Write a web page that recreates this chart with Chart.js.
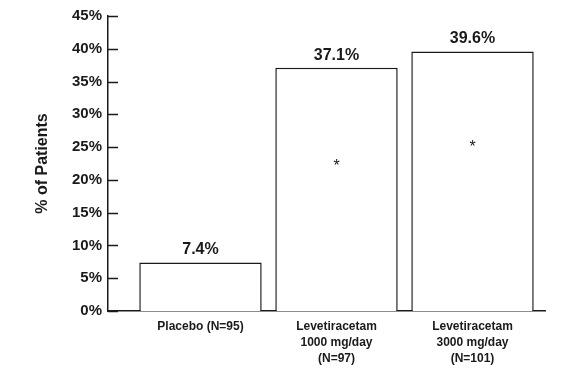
<!DOCTYPE html>
<html>
<head>
<meta charset="utf-8">
<script src="https://cdn.jsdelivr.net/npm/chart.js@4.4.1/dist/chart.umd.min.js"></script>
<style>
  html, body { margin: 0; padding: 0; background: #fff; }
  #wrap { width: 587px; height: 379px; position: relative; }
</style>
</head>
<body>
<div id="wrap"><canvas id="c" width="587" height="379"></canvas></div>
<script>
// ---- data ----
const categories = [
  ["Placebo (N=95)"],
  ["Levetiracetam", "1000 mg/day", "(N=97)"],
  ["Levetiracetam", "3000 mg/day", "(N=101)"]
];
const percentPatients = [7.4, 37.1, 39.6];
const valueLabels = ["7.4%", "37.1%", "39.6%"];
const asteriskPositions = [null, 22.7, 25.6];
const yTicks = [0, 5, 10, 15, 20, 25, 30, 35, 40, 45];

const ink = '#1a1a1a';
const xPositions = categories.map((c, i) => i + 1);

const decorPlugin = {
  id: 'decor',
  afterDatasetsDraw(chart) {
    const ctx = chart.ctx;
    const ys = chart.scales.y, xs = chart.scales.x;
    ctx.save();
    // inward tick marks on y axis
    ctx.strokeStyle = ink;
    ctx.lineWidth = 1.5;
    ys.ticks.forEach(t => {
      const py = Math.round(ys.getPixelForValue(t.value)) + 0.5;
      ctx.beginPath();
      ctx.moveTo(ys.right, py);
      ctx.lineTo(ys.right + 10, py);
      ctx.stroke();
    });
    // value labels above bars
    const meta = chart.getDatasetMeta(0);
    ctx.fillStyle = ink;
    ctx.font = 'bold 16px "Liberation Sans", Arial, sans-serif';
    ctx.textAlign = 'center';
    ctx.textBaseline = 'alphabetic';
    meta.data.forEach((bar, i) => {
      ctx.fillText(valueLabels[i], bar.x, bar.y - 8);
    });
    // asterisks
    ctx.font = '16px "Liberation Sans", Arial, sans-serif';
    asteriskPositions.forEach((v, i) => {
      if (v === null) return;
      ctx.fillText('*', xs.getPixelForValue(xPositions[i]), ys.getPixelForValue(v) + 9);
    });
    ctx.restore();
  }
};

new Chart(document.getElementById('c'), {
  type: 'bar',
  data: {
    datasets: [{
      data: xPositions.map((x, i) => ({ x: x, y: percentPatients[i] })),
      backgroundColor: '#ffffff',
      borderColor: ink,
      borderWidth: 1.5,
      barPercentage: 0.9,
      categoryPercentage: 1.0
    }]
  },
  options: {
    responsive: false,
    animation: false,
    layout: { padding: { top: 16, right: 42, bottom: 0, left: 0 } },
    plugins: { legend: { display: false }, tooltip: { enabled: false } },
    scales: {
      x: {
        type: 'linear',
        offset: false,
        min: 0.32,
        max: 3.533,
        grid: { display: false, drawTicks: false, offset: false },
        border: { display: true, color: ink, width: 1.5 },
        afterBuildTicks: (scale) => { scale.ticks = xPositions.map(v => ({ value: v })); },
        afterFit: (scale) => { scale.height = 68; scale.paddingLeft = 0; scale.paddingRight = 0; },
        ticks: {
          autoSkip: false,
          maxRotation: 0,
          padding: 8,
          color: ink,
          font: { family: '"Liberation Sans", Arial, sans-serif', size: 12, weight: 'bold', lineHeight: 1.33 },
          callback: (v) => categories[v - 1] || ''
        }
      },
      y: {
        min: 0,
        max: 45,
        grid: { display: false, drawTicks: false },
        border: { display: true, color: ink, width: 1.5 },
        afterBuildTicks: (scale) => { scale.ticks = yTicks.map(v => ({ value: v })); },
        afterFit: (scale) => { scale.width = 108; },
        ticks: {
          padding: 6,
          color: ink,
          font: { family: '"Liberation Sans", Arial, sans-serif', size: 15, weight: 'bold' },
          callback: (v) => v + '%'
        },
        title: {
          display: true,
          text: '% of Patients',
          color: ink,
          padding: { top: 33, bottom: 0 },
          font: { family: '"Liberation Sans", Arial, sans-serif', size: 16, weight: 'bold' }
        }
      }
    }
  },
  plugins: [decorPlugin]
});
</script>
</body>
</html>
